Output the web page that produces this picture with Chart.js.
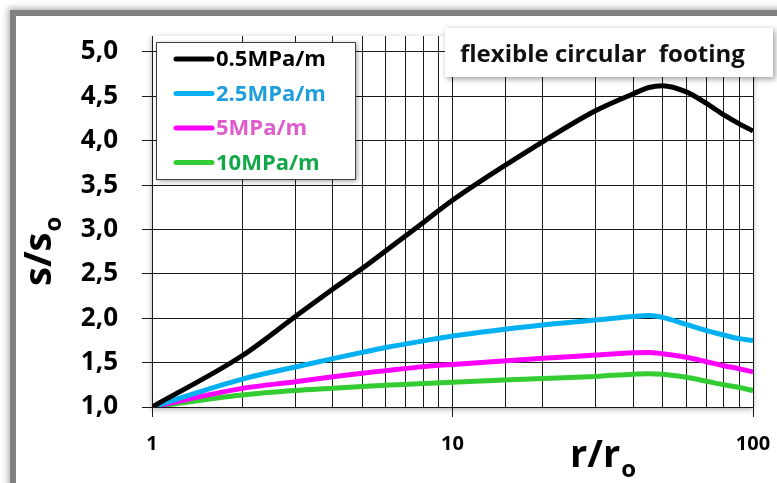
<!DOCTYPE html>
<html>
<head>
<meta charset="utf-8">
<script src="https://cdn.jsdelivr.net/npm/chart.js@4.4.1/dist/chart.umd.min.js"></script>
<style>
    html, body { margin: 0; padding: 0; background: #fff; overflow: hidden; }
    #frame {
        position: absolute; left: 10px; top: 10px; width: 900px; height: 600px;
        border: 6px solid #808080; background: #fff;
        box-shadow: 0 0 6px 2px rgba(0, 0, 0, 0.3);
    }
    #wrap { position: absolute; left: 0; top: 0; width: 777px; height: 483px; }
</style>
</head>
<body>
<div id="frame"></div>
<div id="wrap"><canvas id="chart" width="777" height="483"></canvas></div>
<script>
// r/ro values (log axis)
const rValues = [1, 2, 3, 4, 5, 6, 8, 10, 20, 30, 40, 45, 50, 60, 70, 80, 90, 100];

// s/so for each subgrade modulus
const s05 = [1.0, 1.58, 2.02, 2.33, 2.56, 2.76, 3.08, 3.33, 3.99, 4.34, 4.53, 4.60, 4.62, 4.55, 4.42, 4.29, 4.19, 4.11];
const s25 = [1.0, 1.315, 1.45, 1.545, 1.615, 1.67, 1.745, 1.80, 1.925, 1.98, 2.02, 2.03, 2.01, 1.93, 1.86, 1.81, 1.77, 1.75];
const s5 = [1.0, 1.21, 1.285, 1.34, 1.38, 1.41, 1.455, 1.48, 1.55, 1.585, 1.61, 1.615, 1.60, 1.56, 1.51, 1.465, 1.43, 1.395];
const s10 = [1.0, 1.135, 1.185, 1.21, 1.23, 1.245, 1.265, 1.28, 1.32, 1.345, 1.37, 1.375, 1.37, 1.335, 1.29, 1.25, 1.22, 1.185];

const seriesLabels = ['0.5MPa/m', '2.5MPa/m', '5MPa/m', '10MPa/m'];
const lineColors = ['#000000', '#00b0f0', '#ff00ff', '#33cc33'];
const legendTextColors = ['#000000', '#1e9fdc', '#e05ccc', '#12a84a'];
const xTickLabels = [1, 10, 100];

const FONT = '"Open Sans", "DejaVu Sans", sans-serif';

const toPoints = (ys) => ys.map((y, i) => ({ x: rValues[i], y }));

const datasets = [s05, s25, s5, s10].map((ys, i) => ({
    label: seriesLabels[i],
    data: toPoints(ys),
    borderColor: lineColors[i],
    backgroundColor: lineColors[i],
    borderWidth: 5,
    pointRadius: 0,
    cubicInterpolationMode: 'monotone',
    fill: false
}));

// draws plot area shadow, the inside legend, the title box and axis titles
const decorations = {
    id: 'decorations',
    beforeDraw(chart) {
        const { ctx, chartArea: a } = chart;
        ctx.save();
        ctx.shadowColor = 'rgba(0,0,0,0.35)';
        ctx.shadowBlur = 6;
        ctx.shadowOffsetY = 2;
        ctx.fillStyle = '#fff';
        ctx.fillRect(a.left, a.top, a.right - a.left, a.bottom - a.top);
        ctx.restore();
    },
    afterDraw(chart) {
        const ctx = chart.ctx;
        ctx.save();

        // legend box
        ctx.shadowColor = 'rgba(0,0,0,0.4)';
        ctx.shadowBlur = 5;
        ctx.shadowOffsetX = 2;
        ctx.shadowOffsetY = 2;
        ctx.fillStyle = '#fff';
        ctx.fillRect(156, 42, 199, 137);
        ctx.shadowColor = 'transparent';
        ctx.strokeStyle = '#404040';
        ctx.lineWidth = 1;
        ctx.strokeRect(156.5, 42.5, 199, 137);

        ctx.font = 'bold 22px ' + FONT;
        ctx.textBaseline = 'middle';
        chart.data.datasets.forEach((ds, i) => {
            const y = 59 + i * 34.5;
            ctx.strokeStyle = ds.borderColor;
            ctx.lineWidth = 5;
            ctx.lineCap = 'round';
            ctx.beginPath();
            ctx.moveTo(176, y);
            ctx.lineTo(212, y);
            ctx.stroke();
            ctx.fillStyle = legendTextColors[i];
            ctx.fillText(ds.label, 216, y + 1);
        });

        // title box
        ctx.shadowColor = 'rgba(0,0,0,0.4)';
        ctx.shadowBlur = 6;
        ctx.shadowOffsetX = 2;
        ctx.shadowOffsetY = 2;
        ctx.fillStyle = '#fff';
        ctx.fillRect(445, 28, 328, 49);
        ctx.shadowColor = 'transparent';
        ctx.fillStyle = '#111';
        ctx.font = 'bold 24px ' + FONT;
        ctx.textBaseline = 'alphabetic';
        ctx.fillText('flexible circular  footing', 460, 62);

        // x axis title r/ro
        ctx.fillStyle = '#000';
        ctx.font = 'bold 38px ' + FONT;
        ctx.fillText('r/r', 570, 467);
        let w = ctx.measureText('r/r').width;
        ctx.font = 'bold 24px ' + FONT;
        ctx.fillText('o', 570 + w + 1, 477);

        // y axis title s/so
        ctx.translate(51, 286);
        ctx.rotate(-Math.PI / 2);
        ctx.font = 'bold 38px ' + FONT;
        ctx.fillText('s/s', 0, 0);
        w = ctx.measureText('s/s').width;
        ctx.font = 'bold 24px ' + FONT;
        ctx.fillText('o', w + 1, 10);

        ctx.restore();
    }
};

new Chart(document.getElementById('chart'), {
    type: 'line',
    data: { datasets },
    plugins: [decorations],
    options: {
        responsive: false,
        animation: false,
        layout: { padding: { left: 0, top: 36, right: 24, bottom: 0 } },
        plugins: {
            legend: { display: false },
            title: { display: false },
            tooltip: { enabled: false }
        },
        scales: {
            x: {
                type: 'logarithmic',
                min: 1,
                max: 100,
                afterFit: (scale) => {
                    scale.height = 76;
                    scale.paddingLeft = 0;
                    scale.paddingRight = 0;
                },
                border: { display: true, color: '#1a1a1a', width: 1 },
                grid: {
                    color: '#1a1a1a',
                    lineWidth: 1,
                    tickLength: 10,
                    tickColor: (c) => xTickLabels.includes(c.tick && c.tick.value) ? '#1a1a1a' : 'rgba(0,0,0,0)'
                },
                ticks: {
                    autoSkip: false,
                    maxRotation: 0,
                    padding: 15,
                    color: '#000',
                    font: { family: FONT, size: 20, weight: 'bold' },
                    callback: (v) => xTickLabels.includes(v) ? String(v) : ''
                }
            },
            y: {
                type: 'linear',
                min: 1,
                max: 5.18,
                afterFit: (scale) => {
                    scale.width = 152;
                    scale.paddingTop = 0;
                    scale.paddingBottom = 0;
                },
                border: { display: true, color: '#1a1a1a', width: 1 },
                grid: {
                    color: '#1a1a1a',
                    lineWidth: 1,
                    tickLength: 10
                },
                ticks: {
                    stepSize: 0.5,
                    includeBounds: false,
                    padding: 24,
                    color: '#000',
                    font: { family: FONT, size: 26, weight: 'bold' },
                    callback: (v) => v.toFixed(1).replace('.', ',')
                }
            }
        }
    }
});
</script>
</body>
</html>
